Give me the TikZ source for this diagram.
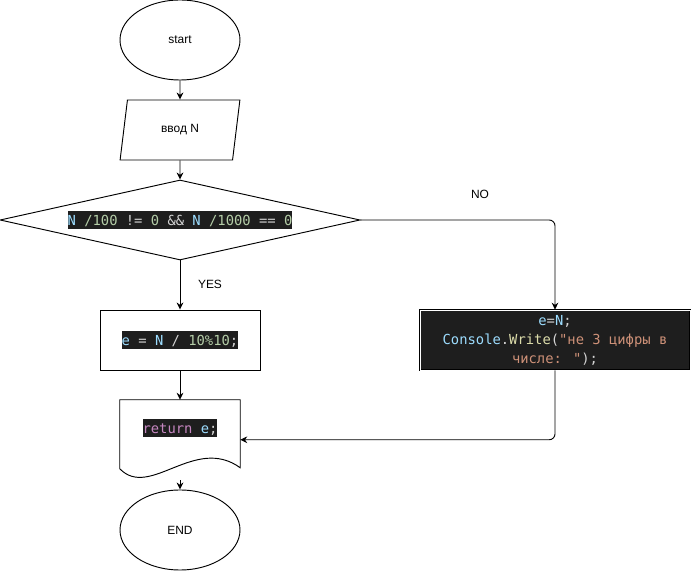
\documentclass[tikz,border=0pt]{standalone}
\usepackage{fontspec}
\setmainfont{Liberation Sans}
\newfontfamily\codefont{DejaVu Sans Mono}
\usepackage{xcolor}
\usetikzlibrary{arrows.meta,positioning,calc,shapes.geometric}
\definecolor{codebg}{HTML}{1E1E1E}
\definecolor{cvarc}{HTML}{9CDCFE}
\definecolor{cnumc}{HTML}{B5CEA8}
\definecolor{copc}{HTML}{D4D4D4}
\definecolor{ckwc}{HTML}{C586C0}
\definecolor{cstrc}{HTML}{CE9178}
\definecolor{cfnc}{HTML}{DCDCAA}
\newcommand{\cv}[1]{\textcolor{cvarc}{#1}}
\newcommand{\cn}[1]{\textcolor{cnumc}{#1}}
\newcommand{\co}[1]{\textcolor{copc}{#1}}
\newcommand{\ck}[1]{\textcolor{ckwc}{#1}}
\newcommand{\cs}[1]{\textcolor{cstrc}{#1}}
\newcommand{\cf}[1]{\textcolor{cfnc}{#1}}
\newcommand{\codefnt}{\codefont\fontsize{11.8}{16.2}\selectfont}
\newcommand{\codebox}[1]{{\codefnt\setlength{\fboxsep}{0pt}\colorbox{codebg}{\rule[-3.4pt]{0pt}{16.2pt}#1}}}
\tikzset{
  term/.style={ellipse, draw, line width=0.8pt, minimum width=3.6cm, minimum height=2.4cm, inner sep=0pt},
  io/.style={trapezium, trapezium left angle=76, trapezium right angle=104, trapezium stretches=true, draw, line width=0.8pt, minimum width=3.6cm, minimum height=1.8cm, inner sep=0pt},
  cond/.style={diamond, aspect=4.5, draw, line width=0.8pt, minimum width=10.8cm, minimum height=2.4cm, inner sep=0pt},
  proc/.style={draw, line width=0.8pt, minimum width=#1, minimum height=1.8cm, inner sep=0pt, align=center},
  proc/.default=4.8cm,
  arr/.style={-{Stealth[length=2.1mm, width=2mm]}, line width=0.8pt},
}

\begin{document}
\begin{tikzpicture}[x=0.03cm, y=-0.03cm, font=\fontsize{10.2}{12}\selectfont]
  \useasboundingbox (0,0) rectangle (691,571);
  \node[term] (start) at (180,40) {start};
  \node[io] (input) at (180,130) {ввод N};
  \node[cond] (check) at (180,220) {\codebox{\cv{N} \cn{/100} \co{!=} \cn{0} \co{\&\&} \cv{N} \cn{/1000} \co{==} \cn{0}}};
  \node[proc] (digit) at (180,340) {\codebox{\cv{e} \co{=} \cv{N} \co{/} \cn{10\%10}\co{;}}};
  \node[proc=8.1cm, fill=codebg, draw=black, line width=0.6pt, double=white, double distance=0.8pt, font=\codefnt] (warn) at (555,340)
    {\cv{e}\co{=}\cv{N}\co{;}\\
     \cv{Console}\co{.}\cf{Write}\co{(}\cs{"не 3 цифры в}\\
     \cs{числе: "}\co{);}};
  \node[minimum width=3.6cm, minimum height=2.4cm, inner sep=0pt] (ret) at (180,440) {};
  \draw[line width=0.8pt, fill=white] (ret.north west) -- (ret.north east) -- ($(ret.north east)+(0,68)$)
    .. controls ($(ret.north west)+(75,35)$) and ($(ret.north west)+(30,100)$) .. ($(ret.north west)+(0,69)$) -- cycle;
  \node (retcode) at (180,428) {\codebox{\ck{return} \cv{e}\co{;}}};
  \node[term] (finish) at (180,530) {END};
  \coordinate (retin) at ($(ret.north east)+(0,40)$);
  \node (yes) at (210,284) {YES};
  \node (no) at (480,194) {NO};
  \draw[arr] (start) -- (input);
  \draw[arr] (input) -- (check);
  \draw[arr] (check) -- (digit);
  \draw[arr, rounded corners=5pt] (check.east) -| (warn.north);
  \draw[arr] (digit) -- (ret);
  \draw[arr, rounded corners=5pt] (warn.south) |- (retin);
  \draw[arr] (ret) -- (finish);
\end{tikzpicture}
\end{document}
